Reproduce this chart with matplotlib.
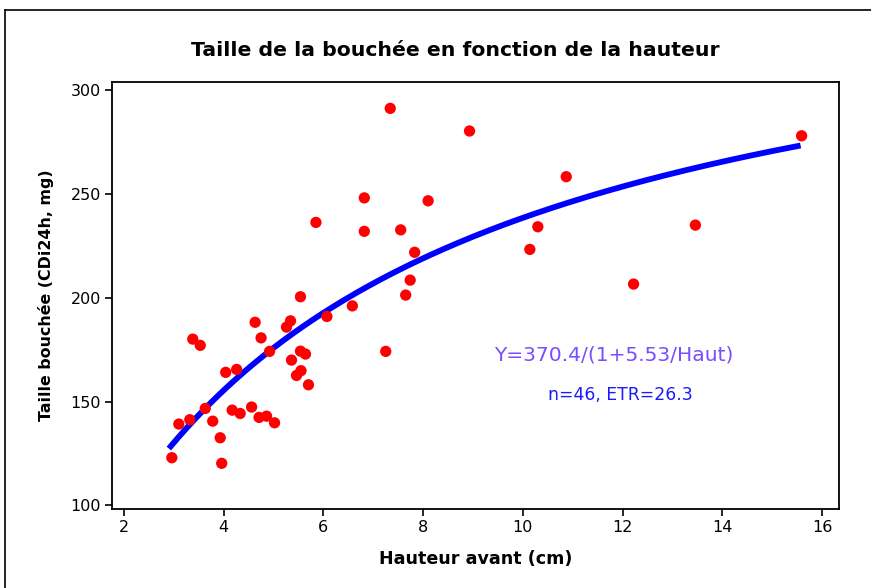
import numpy as np
import matplotlib
matplotlib.use("Agg")
import matplotlib.pyplot as plt
from matplotlib.lines import Line2D

# Hauteur avant (cm) / Taille bouchee (mg)
hauteur = [2.96, 3.10, 3.32, 3.38, 3.53, 3.63, 3.78, 3.93, 3.96, 4.04,
           4.26, 4.17, 4.33, 4.56, 4.63, 4.75, 4.71, 4.86, 4.92, 5.02,
           5.26, 5.34, 5.54, 5.36, 5.54, 5.64, 5.55, 5.46, 5.70, 6.07,
           6.58, 5.85, 6.82, 6.82, 7.34, 8.93, 15.59, 10.87, 8.10, 7.55,
           7.83, 10.30, 10.14, 13.46, 7.74, 7.65, 12.22, 7.25]
taille = [123.0, 139.2, 141.3, 180.1, 177.1, 146.7, 140.6, 132.6, 120.3, 164.1,
          165.5, 145.9, 144.3, 147.4, 188.2, 180.7, 142.4, 143.0, 174.2, 139.8,
          185.9, 188.9, 200.5, 170.0, 174.3, 172.9, 164.9, 162.6, 158.1, 191.0,
          196.1, 236.3, 248.1, 232.0, 291.2, 280.3, 278.0, 258.3, 246.7, 232.7,
          221.9, 234.2, 223.3, 235.0, 208.5, 201.3, 206.6, 174.2]

# fitted model shown on the chart: Y = a / (1 + b / Haut)
fit_a = 370.4
fit_b = 5.53
fit_range = (2.90, 15.57)

xticks = [2, 4, 6, 8, 10, 12, 14, 16]
yticks = [100, 150, 200, 250, 300]

W, H = 871, 588
fig = plt.figure(figsize=(W / 100, H / 100), dpi=100, facecolor='white')
ax = fig.add_axes((112 / W, 1 - 509 / H, (839 - 112) / W, (509 - 82) / H))

xs = np.linspace(fit_range[0], fit_range[1], 200)
ax.plot(xs, fit_a / (1 + fit_b / xs), color='#0000ff', lw=4.2,
        solid_capstyle='butt', zorder=2)
ax.scatter(hauteur, taille, s=66, color='#ff0000', edgecolors='none', zorder=3)

ax.set_xlim(1.76, 16.34)
ax.set_ylim(98.3, 303.9)
ax.set_xticks(xticks)
ax.set_yticks(yticks)
ax.tick_params(direction='out', length=5, width=1.2, labelsize=11.5, pad=3)
for sp in ax.spines.values():
    sp.set_linewidth(1.3)

fig.text(455 / W, 1 - 50 / H, "Taille de la bouchée en fonction de la hauteur",
         ha='center', va='center', fontsize=14.7, fontweight='bold')
ax.set_xlabel("Hauteur avant (cm)", fontsize=12.6, fontweight='bold', labelpad=11)
ax.set_ylabel("Taille bouchée (CDi24h, mg)", fontsize=11.4, fontweight='bold', labelpad=12)

ax.text(614 / W, 1 - 355 / H, "Y=370.4/(1+5.53/Haut)", transform=fig.transFigure,
        ha='center', va='center', fontsize=14.6, color='#7a4dff')
ax.text(620 / W, 1 - 395 / H, "n=46, ETR=26.3", transform=fig.transFigure,
        ha='center', va='center', fontsize=12.4, color='#1a1aff')

# outer frame (only top and left visible)
fig.add_artist(Line2D([5 / W, 1], [1 - 10 / H, 1 - 10 / H], color='black', lw=1.2,
                      transform=fig.transFigure))
fig.add_artist(Line2D([5 / W, 5 / W], [0, 1 - 10 / H], color='black', lw=1.2,
                      transform=fig.transFigure))

fig.savefig("out.png", dpi=100, facecolor='white')
